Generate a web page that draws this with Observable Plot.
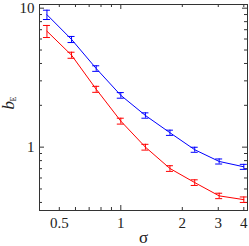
<!DOCTYPE html>
<html><head><meta charset="utf-8">
<script src="https://cdn.jsdelivr.net/npm/d3@7"></script>
<script src="https://cdn.jsdelivr.net/npm/@observablehq/plot@0.6"></script>
<style>body{margin:0;background:#fff}</style>
</head><body><div id="chart"></div>
<script>
const sigma = [0.435, 0.574, 0.758, 1.0, 1.32, 1.74, 2.30, 3.03, 4.0];
const seriesNames = ["blue", "red"];
const seriesColors = ["#3d3dff", "#ff3d3d"];
const blueB = [8.98, 5.96, 3.68, 2.36, 1.69, 1.27, 0.958, 0.789, 0.722];
const blueErr = [0.69, 0.30, 0.17, 0.11, 0.075, 0.055, 0.040, 0.033, 0.030];
const redB = [6.83, 4.59, 2.61, 1.54, 1.00, 0.702, 0.556, 0.446, 0.419];
const redErr = [0.68, 0.23, 0.13, 0.075, 0.048, 0.033, 0.026, 0.020, 0.019];
const xTickLabels = [0.5, 1, 2, 3, 4];
const xMajorTicks = [1];
const xMinorTicks = [0.4, 0.5, 0.6, 0.7, 0.8, 0.9, 2, 3, 4];
const yTickLabels = [1, 10];
const yMajorTicks = [1, 10];
const yMinorTicks = [0.4, 0.5, 0.6, 0.7, 0.8, 0.9, 2, 3, 4, 5, 6, 7, 8, 9];

const W = 249, H = 246, mL = 39, mR = 2, mT = 4, mB = 36;
const fw = W - mL - mR, fh = H - mT - mB;
const axisColor = "#333";
const font = "Liberation Serif";

const rows = [];
sigma.forEach((s, i) => {
  rows.push({series: "blue", s, b: blueB[i], e: blueErr[i]});
  rows.push({series: "red", s, b: redB[i], e: redErr[i]});
});

function xTicks(data, len) {
  return [
    Plot.tickX(data, {x: d => d, insetTop: fh - len, stroke: axisColor, strokeWidth: 1}),
    Plot.tickX(data, {x: d => d, insetBottom: fh - len, stroke: axisColor, strokeWidth: 1})
  ];
}
function yTicks(data, len) {
  return [
    Plot.tickY(data, {y: d => d, insetRight: fw - len, stroke: axisColor, strokeWidth: 1}),
    Plot.tickY(data, {y: d => d, insetLeft: fw - len, stroke: axisColor, strokeWidth: 1})
  ];
}

const chart = Plot.plot({
  width: W, height: H,
  marginLeft: mL, marginRight: mR, marginTop: mT, marginBottom: mB,
  style: {fontFamily: font, background: "#fff"},
  x: {type: "log", domain: [0.4, 4.17], axis: null},
  y: {type: "log", domain: [0.35, 10.63], axis: null},
  color: {domain: seriesNames, range: seriesColors},
  marks: [
    ...xTicks(xMinorTicks, 3), ...xTicks(xMajorTicks, 5),
    ...yTicks(yMinorTicks, 3), ...yTicks(yMajorTicks, 5),
    Plot.line(rows, {x: "s", y: "b", z: "series", stroke: "series", strokeWidth: 1}),
    Plot.ruleX(rows, {x: "s", y1: d => d.b - d.e, y2: d => d.b + d.e, stroke: "series", strokeWidth: 1}),
    Plot.ruleY(rows, {y: d => d.b + d.e, x1: "s", x2: "s", insetLeft: -3.5, insetRight: -3.5, stroke: "series", strokeWidth: 1}),
    Plot.ruleY(rows, {y: d => d.b - d.e, x1: "s", x2: "s", insetLeft: -3.5, insetRight: -3.5, stroke: "series", strokeWidth: 1}),
    Plot.frame({stroke: axisColor, strokeWidth: 1}),
    Plot.text(xTickLabels, {x: d => d, text: d => String(d), frameAnchor: "bottom", dy: 13, lineAnchor: "middle", fontSize: 15, fill: "#222"}),
    Plot.text(yTickLabels, {y: d => d, text: d => String(d), frameAnchor: "left", dx: -5, textAnchor: "end", lineAnchor: "middle", fontSize: 15, fill: "#222"}),
    Plot.text(["σ"], {text: d => d, frameAnchor: "bottom", dy: 27, lineAnchor: "middle", fontSize: 17, fill: "#222"}),
    Plot.text(["b"], {text: d => d, frameAnchor: "left", dx: -31, dy: 2, rotate: -90, lineAnchor: "middle", fontSize: 17, fontStyle: "italic", fill: "#222"}),
    Plot.text(["E"], {text: d => d, frameAnchor: "left", dx: -26, dy: -6, rotate: -90, lineAnchor: "middle", fontSize: 8, fill: "#222"})
  ]
});
document.getElementById("chart").appendChild(chart);
</script>
</body></html>
